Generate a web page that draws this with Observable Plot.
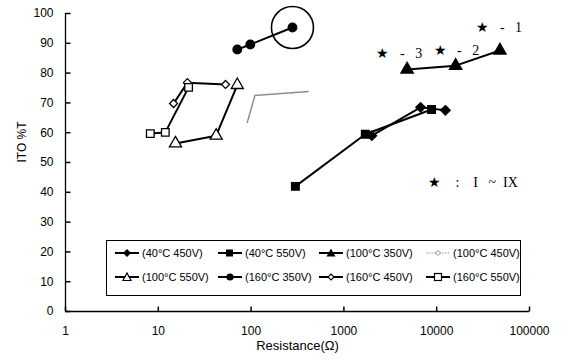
<!DOCTYPE html>
<html><head><meta charset="utf-8">
<script src="https://cdn.jsdelivr.net/npm/d3@7"></script>
<script src="https://cdn.jsdelivr.net/npm/@observablehq/plot@0.6"></script>
<style>
html,body{margin:0;padding:0;background:#fff;}
#wrap{position:relative;width:573px;height:360px;}
#legend{position:absolute;left:106px;top:240px;width:415px;height:56px;border:1.3px solid #000;background:#fff;box-sizing:border-box;font-family:"Liberation Sans",Arial,sans-serif;font-size:11px;}
.item{position:absolute;display:flex;align-items:center;white-space:nowrap;}
.item svg{display:block;margin-right:2px;}
</style></head>
<body><div id="wrap"><div id="legend"></div></div>
<script>
// ---- data ----
const xTicks = [1, 10, 100, 1000, 10000, 100000];
const yTicks = [0, 10, 20, 30, 40, 50, 60, 70, 80, 90, 100];
const seriesNames = ["(40°C 450V)", "(40°C 550V)", "(100°C 350V)", "(100°C 450V)",
                     "(100°C 550V)", "(160°C 350V)", "(160°C 450V)", "(160°C 550V)"];
const r40_450 = [2000, 6700, 12400];  const t40_450 = [59, 68.5, 67.5];
const r40_550 = [300, 1700, 8800];    const t40_550 = [42, 59.5, 67.8];
const r100_350 = [4800, 16000, 48000]; const t100_350 = [81.2, 82.5, 87.6];
const r100_450 = [91, 110, 410];      const t100_450 = [63.5, 72.5, 73.8];
const r100_550 = [15.3, 42, 71];      const t100_550 = [56.4, 59, 76];
const r160_350 = [71, 98, 279];       const t160_350 = [87.9, 89.6, 95.3];
const r160_450 = [14.6, 20.6, 53];    const t160_450 = [69.8, 76.8, 76.2];
const r160_550 = [8.2, 11.9, 21.2];   const t160_550 = [59.7, 60.1, 75.2];
const circleR = [279]; const circleT = [95.3];
const starLabels = ["★\u2002\u00a0-\u2002\u00a01", "★\u2002\u00a0-\u2002\u00a02", "★\u2002\u00a0-\u2002\u00a03",
                    "★\u2003:\u2003I\u2002\u00a0~\u2002IX"];
const starR = [31900, 11000, 2670, 9700];
const starT = [95.3, 87.6, 86.6, 43.3];

const seriesR = [r40_450, r40_550, r100_350, r100_450, r100_550, r160_350, r160_450, r160_550];
const seriesT = [t40_450, t40_550, t100_350, t100_450, t100_550, t160_350, t160_450, t160_550];
const rows = seriesNames.flatMap((s, i) => seriesR[i].map((R, j) => ({series: s, R, T: seriesT[i][j]})));
const pick = s => rows.filter(d => d.series === s);

const markerStyle = {
  "(40°C 450V)": {symbol: "diamond2", fill: "black", stroke: "black", r: 4.3},
  "(40°C 550V)": {symbol: "square", fill: "black", stroke: "black", r: 4.3},
  "(100°C 350V)": {symbol: "triangle", fill: "black", stroke: "black", r: 4.6},
  "(100°C 550V)": {symbol: "triangle", fill: "white", stroke: "black", r: 4.5},
  "(160°C 350V)": {symbol: "circle", fill: "black", stroke: "black", r: 4.3},
  "(160°C 450V)": {symbol: "diamond2", fill: "white", stroke: "black", r: 3.6},
  "(160°C 550V)": {symbol: "square", fill: "white", stroke: "black", r: 4.3}
};

const tickRight = {draw(ctx) { ctx.moveTo(0, 0); ctx.lineTo(5, 0); }};
const tickUp = {draw(ctx) { ctx.moveTo(0, 0); ctx.lineTo(0, -5); }};

const blackNames = seriesNames.filter(s => s !== "(100°C 450V)");

const chart = Plot.plot({
  width: 573, height: 360,
  marginLeft: 65, marginRight: 44, marginTop: 13, marginBottom: 49,
  style: {fontFamily: "'Liberation Sans', Arial, sans-serif", fontSize: "12px", background: "white", color: "black"},
  x: {type: "log", domain: [1, 100000], label: null},
  y: {domain: [0, 100], label: null},
  marks: [
    Plot.ruleX([1], {stroke: "black", strokeWidth: 1.3}),
    Plot.ruleY([0], {stroke: "black", strokeWidth: 1.3}),
    Plot.dot(yTicks, {x: () => 1, y: d => d, symbol: tickRight, stroke: "black", fill: "none", r: 3}),
    Plot.dot(xTicks, {x: d => d, y: () => 0, symbol: tickUp, stroke: "black", fill: "none", r: 3}),
    Plot.axisX(xTicks, {tickSize: 0, tickPadding: 15, tickFormat: d => String(d), label: null, fontSize: 12}),
    Plot.axisY(yTicks, {tickSize: 0, tickPadding: 12, label: null, fontSize: 12}),
    Plot.text(["Resistance(Ω)"], {frameAnchor: "bottom", dy: 38, fontSize: 13}),
    Plot.text(["ITO %T"], {frameAnchor: "left", dx: -43, rotate: -90, fontSize: 12}),
    Plot.line(pick("(100°C 450V)"), {x: "R", y: "T", stroke: "#8c8c8c", strokeWidth: 1.6, strokeDasharray: "1.2,1.3"}),
    Plot.line(rows.filter(d => d.series !== "(100°C 450V)"), {x: "R", y: "T", z: "series", stroke: "black", strokeWidth: 2}),
    ...blackNames.map(s => Plot.dot(pick(s), {x: "R", y: "T", ...markerStyle[s], strokeWidth: 1.3})),
    Plot.dot(circleR.map((R, i) => ({R, T: circleT[i]})), {x: "R", y: "T", r: 21, fill: "none", stroke: "black", strokeWidth: 1.6}),
    Plot.text(starLabels.map((t, i) => ({t, R: starR[i], T: starT[i]})), {x: "R", y: "T", text: "t", textAnchor: "start", dx: -7, fontSize: 14, fontFamily: "'Liberation Serif', 'DejaVu Serif', serif"})
  ]
});
document.getElementById("wrap").prepend(chart);

// ---- legend ----
const legend = document.getElementById("legend");
const colLeft = [7, 110, 211, 318];
const rowTop = [6, 30];
const legendMarker = {
  "(40°C 450V)": '<path d="M13,1 L17,5 L13,9 L9,5Z" fill="black"/>',
  "(40°C 550V)": '<rect x="9" y="1.5" width="7" height="7" fill="black"/>',
  "(100°C 350V)": '<path d="M13,0.5 L17.5,8.5 L8.5,8.5Z" fill="black"/>',
  "(100°C 450V)": '<path d="M13,2.5 L15.5,5 L13,7.5 L10.5,5Z" fill="white" stroke="#888"/>',
  "(100°C 550V)": '<path d="M13,1 L17,8.5 L9,8.5Z" fill="white" stroke="black" stroke-width="1.2"/>',
  "(160°C 350V)": '<circle cx="13" cy="5" r="3.6" fill="black"/>',
  "(160°C 450V)": '<path d="M13,2 L16,5 L13,8 L10,5Z" fill="white" stroke="black" stroke-width="1.1"/>',
  "(160°C 550V)": '<rect x="9.5" y="1.5" width="7" height="7" fill="white" stroke="black" stroke-width="1.2"/>'
};
seriesNames.forEach((s, i) => {
  const div = document.createElement("div");
  div.className = "item";
  div.style.left = colLeft[i % 4] + "px";
  div.style.top = rowTop[Math.floor(i / 4)] + "px";
  const gray = s === "(100°C 450V)";
  div.innerHTML = '<svg width="26" height="10">' +
    '<line x1="1" y1="5" x2="25" y2="5" stroke="' + (gray ? "#9a9a9a" : "black") + '" stroke-width="' + (gray ? 1.2 : 2) + '"' + (gray ? ' stroke-dasharray="1.5,1.2"' : '') + '/>' +
    legendMarker[s] + '</svg><span>' + s + '</span>';
  legend.appendChild(div);
});
</script>
</body></html>
